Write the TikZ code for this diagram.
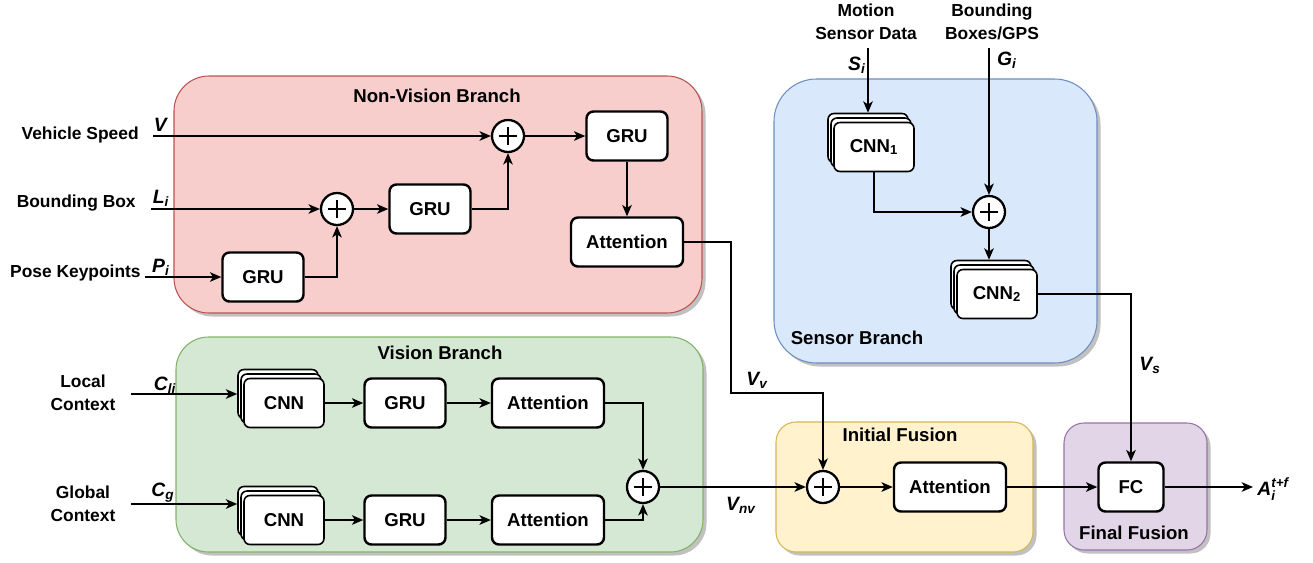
\documentclass[tikz,border=0pt]{standalone}
\usepackage{amsmath}
\usepackage{fontspec}
\setmainfont{Liberation Sans}
\usepackage{tikz}
\usetikzlibrary{
  arrows.meta,
  calc,
  shadows
}
\usepackage{xcolor}
\definecolor{fillRed}{RGB}{248, 206, 204}
\definecolor{fillBlue}{RGB}{218, 232, 252}
\definecolor{fillGreen}{RGB}{213, 232, 212}
\definecolor{fillYellow}{RGB}{255, 242, 204}
\definecolor{fillPurple}{RGB}{225, 213, 231}
\definecolor{lineRed}{RGB}{184, 84, 80}
\definecolor{lineBlue}{RGB}{108, 142, 191}
\definecolor{lineGreen}{RGB}{130, 179, 102}
\definecolor{lineYellow}{RGB}{214, 182, 86}
\definecolor{linePurple}{RGB}{150, 115, 166}
\newcommand{\blkfont}{\fontsize{10.6}{12}\selectfont\bfseries}
\newcommand{\sidefont}{\fontsize{9.9}{12.8}\selectfont\bfseries}
\newcommand{\varfont}{\fontsize{11}{12}\selectfont}
\newcommand{\ttlfont}{\fontsize{10.6}{12}\selectfont\bfseries}
\newcommand{\mv}[1]{\textbf{\textit{#1}}}
\tikzset{
  % Panels
  panel/.style    = {line width=0.6pt, drop shadow={shadow xshift=2pt, shadow yshift=-2pt, fill=black!35, opacity=0.7}},
  panelRed/.style    = {panel, fill=fillRed, draw=lineRed, rounded corners=0.7cm},
  panelBlue/.style   = {panel, fill=fillBlue, draw=lineBlue, rounded corners=0.85cm},
  panelGreen/.style  = {panel, fill=fillGreen, draw=lineGreen, rounded corners=0.65cm},
  panelYellow/.style = {panel, fill=fillYellow, draw=lineYellow, rounded corners=0.4cm},
  panelPurple/.style = {panel, fill=fillPurple, draw=linePurple, rounded corners=0.4cm},
  paneltitle/.style  = {font=\ttlfont},
  % Blocks
  block/.style    = {draw, fill=white, rounded corners=0.14cm, line width=1.4pt,
                     minimum width=1.62cm, minimum height=0.98cm, inner sep=0pt, font=\blkfont},
  attblock/.style = {block, minimum width=2.24cm},
  stackbox/.style = {draw, fill=white, rounded corners=0.12cm, line width=0.9pt,
                     minimum width=1.6cm, minimum height=0.98cm, inner sep=0pt, font=\blkfont},
  sumnode/.style  = {circle, draw, fill=white, line width=1.3pt, minimum size=0.64cm, inner sep=0pt,
                     path picture={
                       \draw[line width=1.5pt] ([xshift=-0.18cm]path picture bounding box.center)
                         -- ([xshift=0.18cm]path picture bounding box.center);
                       \draw[line width=1.5pt] ([yshift=-0.18cm]path picture bounding box.center)
                         -- ([yshift=0.18cm]path picture bounding box.center);}},
  % Connectors
  conn/.style     = {line width=0.75pt, -{Stealth[length=6.5pt, width=5.5pt, inset=1.8pt]}},
  wire/.style     = {line width=0.75pt},
  % Labels
  sidelab/.style  = {font=\sidefont, align=center, inner sep=0pt},
  varlab/.style   = {font=\varfont, inner sep=0pt},
}

\begin{document}
\begin{tikzpicture}[x=0.02cm, y=-0.02cm]
  \useasboundingbox (0,0) rectangle (1313,562);
  % Panels
  \draw[panelRed]    (174,76)  rectangle (702,313);
  \draw[panelBlue]   (774,79)  rectangle (1097,363);
  \draw[panelGreen]  (176,337) rectangle (703,552);
  \draw[panelYellow] (776,422) rectangle (1033,552);
  \draw[panelPurple] (1064,423) rectangle (1207,550);
  \node[paneltitle] (tNV) at (437,96)  {Non-Vision Branch};
  \node[paneltitle] (tS)  at (857,338) {Sensor Branch};
  \node[paneltitle] (tV)  at (440,353) {Vision Branch};
  \node[paneltitle] (tIF) at (900,435) {Initial Fusion};
  \node[paneltitle] (tFF) at (1134,533) {Final Fusion};

  % Non-vision branch
  \node[block]    (nvGRUa) at (263,277) {GRU};
  \node[sumnode]  (sumA)   at (337,209) {};
  \node[block]    (nvGRUb) at (430,209) {GRU};
  \node[sumnode]  (sumB)   at (508,136) {};
  \node[block]    (nvGRUc) at (627,136) {GRU};
  \node[attblock] (nvAtt)  at (627,242) {Attention};
  \coordinate (inV) at (153,136);
  \coordinate (inL) at (151,209);
  \coordinate (inP) at (145,277);
  \node[sidelab, anchor=east] (sV) at (139,135) {Vehicle Speed};
  \node[sidelab, anchor=east] (sL) at (136,203) {Bounding Box};
  \node[sidelab, anchor=east] (sP) at (141,273) {Pose Keypoints};
  \node[varlab] (lV) at (161,125) {\mv{V}};
  \node[varlab] (lL) at (161,198) {\mv{L\textsubscript{i}}};
  \node[varlab] (lP) at (161,267) {\mv{P\textsubscript{i}}};
  \draw[conn] (inV) -- (sumB.west);
  \draw[conn] (inL) -- (sumA.west);
  \draw[conn] (inP) -- (nvGRUa.west);
  \draw[conn] (nvGRUa.east) -| (sumA.south);
  \draw[conn] (sumA.east) -- (nvGRUb.west);
  \draw[conn] (nvGRUb.east) -| (sumB.south);
  \draw[conn] (sumB.east) -- (nvGRUc.west);
  \draw[conn] (nvGRUc.south) -- (nvAtt.north);

  % Vision branch
  \foreach \nm/\yy in {vCNNa/403, vCNNb/520} {
    \node[stackbox] (\nm3) at (278,\yy-9) {};
    \node[stackbox] (\nm2) at (281,\yy-4.5) {};
    \node[stackbox] (\nm)  at (284,\yy) {CNN};
  }
  \node[block]    (vGRUa) at (405,403) {GRU};
  \node[block]    (vGRUb) at (405,520) {GRU};
  \node[attblock] (vAtta) at (548,403) {Attention};
  \node[attblock] (vAttb) at (548,520) {Attention};
  \node[sumnode]  (sumV)  at (643,487) {};
  \coordinate (inCl) at (131,394);
  \coordinate (inCg) at (131,504);
  \node[sidelab] (sCl) at (83,393) {Local\\Context};
  \node[sidelab] (sCg) at (83,504) {Global\\Context};
  \node[varlab] (lCl) at (165,385) {\mv{C\textsubscript{li}}};
  \node[varlab] (lCg) at (163,493) {\mv{C\textsubscript{g}}};
  \draw[conn] (inCl) -- (inCl -| vCNNa3.west);
  \draw[conn] (inCg) -- (inCg -| vCNNb3.west);
  \draw[conn] (vCNNa.east) -- (vGRUa.west);
  \draw[conn] (vCNNb.east) -- (vGRUb.west);
  \draw[conn] (vGRUa.east) -- (vAtta.west);
  \draw[conn] (vGRUb.east) -- (vAttb.west);
  \draw[conn] (vAtta.east) -| (sumV.north);
  \draw[conn] (vAttb.east) -| (sumV.south);

  % Sensor branch
  \foreach \nm/\xx/\yy in {sCNNa/874/147, sCNNb/997/294} {
    \node[stackbox] (\nm3) at (\xx-6,\yy-9) {};
    \node[stackbox] (\nm2) at (\xx-3,\yy-4.5) {};
  }
  \node[stackbox] (sCNNa) at (874,147) {CNN\textsubscript{1}};
  \node[stackbox] (sCNNb) at (997,294) {CNN\textsubscript{2}};
  \node[sumnode]  (sumS)  at (989,212) {};
  \coordinate (inS) at (868,48);
  \coordinate (inG) at (989,48);
  \node[sidelab] (sS) at (866,22) {Motion\\Sensor Data};
  \node[sidelab] (sG) at (992,22) {Bounding\\Boxes/GPS};
  \node[varlab] (lS) at (857,65) {\mv{S\textsubscript{i}}};
  \node[varlab] (lG) at (1007,60) {\mv{G\textsubscript{i}}};
  \draw[conn] (inS) -- (sCNNa3.north);
  \draw[conn] (inG) -- (sumS.north);
  \draw[conn] (sCNNa.south) |- (sumS.west);
  \draw[conn] (sumS.south) -- (sumS.south |- sCNNb3.north);

  % Fusion
  \node[sumnode]  (sumF) at (823,487) {};
  \node[attblock] (attF) at (950,487) {Attention};
  \node[block, minimum width=1.3cm] (fc) at (1131,487) {FC};
  \coordinate (bendV) at (731,393);
  \coordinate (outA) at (1253,487);
  \node[varlab] (lVv)  at (757,380) {\mv{V\textsubscript{v}}};
  \node[varlab] (lVnv) at (741,505) {\mv{V\textsubscript{nv}}};
  \node[varlab] (lVs)  at (1150,365) {\mv{V\textsubscript{s}}};
  \node[varlab, anchor=west] (lA) at (1257,489) {$\mv{A}_{\mv{i}}^{\mv{t+f}}$};
  \draw[conn] (nvAtt.east) -| (bendV) -| (sumF.north);
  \draw[conn] (sumV.east) -- (sumF.west);
  \draw[conn] (sumF.east) -- (attF.west);
  \draw[conn] (attF.east) -- (fc.west);
  \draw[conn] (sCNNb.east) -| (fc.north);
  \draw[conn] (fc.east) -- (outA);
\end{tikzpicture}
\end{document}
